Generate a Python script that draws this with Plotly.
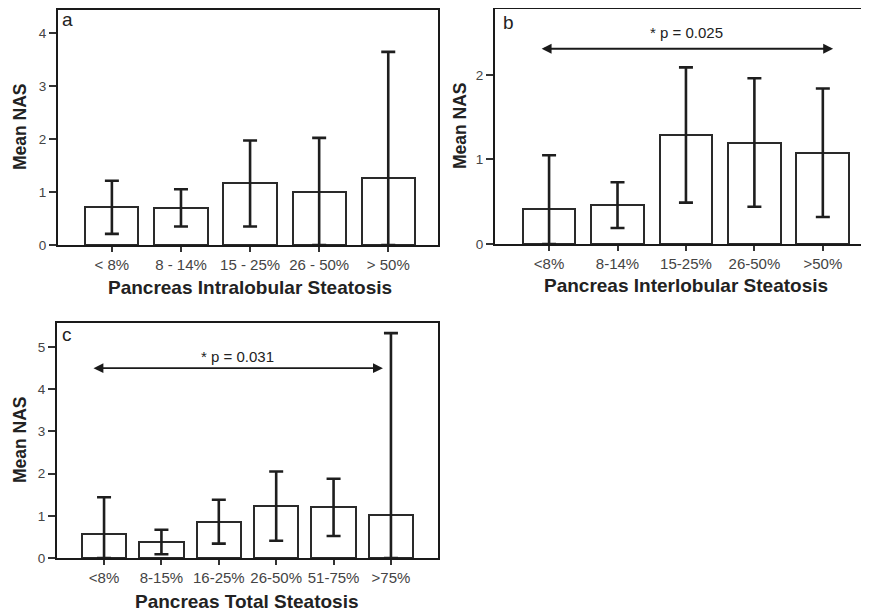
import plotly.graph_objects as go

# page body has an 8px margin: figure placed at (8, 8)
OFF = 8
W, H = 861, 604

# ---- data ----
cats_a = ["< 8%", "8 - 14%", "15 - 25%", "26 - 50%", "> 50%"]
mean_a = [0.71, 0.70, 1.16, 1.00, 1.26]
err_a = [0.50, 0.35, 0.81, 1.02, 2.38]

cats_b = ["<8%", "8-14%", "15-25%", "26-50%", ">50%"]
mean_b = [0.42, 0.46, 1.29, 1.20, 1.08]
err_b = [0.63, 0.27, 0.80, 0.76, 0.76]

cats_c = ["<8%", "8-15%", "16-25%", "26-50%", "51-75%", ">75%"]
mean_c = [0.58, 0.38, 0.86, 1.23, 1.20, 1.01]
err_c = [0.86, 0.29, 0.52, 0.82, 0.68, 4.32]

ptext_b = "* p = 0.025"
ptext_c = "* p = 0.031"

FONT = "Liberation Sans, Arial, sans-serif"
NARROW = "Liberation Sans Narrow, Arial Narrow, Liberation Sans, sans-serif"


def px(x):
    return (x - OFF) / W


def py(y):
    return 1 - (y - OFF) / H


fig = go.Figure()


def add_bars(cats, means, errs, xa, ya):
    fig.add_trace(go.Bar(
        x=cats, y=means, xaxis=xa, yaxis=ya, width=0.77,
        marker=dict(color="white", line=dict(color="#2a2a2a", width=2)),
        error_y=dict(type="data", symmetric=False, array=errs,
                     arrayminus=[min(e, m) for e, m in zip(errs, means)],
                     thickness=2.6, width=7, color="#1e1e1e"),
        showlegend=False, hoverinfo="skip"))


add_bars(cats_a, mean_a, err_a, "x", "y")
add_bars(cats_b, mean_b, err_b, "x2", "y2")
add_bars(cats_c, mean_c, err_c, "x3", "y3")

common_x = dict(type="category", showline=True, linecolor="#1a1a1a", linewidth=2,
                mirror=True, ticks="outside", ticklen=5, tickwidth=1.5, tickcolor="#333",
                tickfont=dict(family=FONT, size=15, color="#444"), showgrid=False,
                zeroline=False, fixedrange=True, automargin=False)
common_y = dict(showline=True, linecolor="#1a1a1a", linewidth=2, mirror=True,
                ticks="outside", ticklen=7, tickwidth=1.5, tickcolor="#333",
                tickfont=dict(family=FONT, size=13.5, color="#444"), showgrid=False,
                zeroline=False, dtick=1, fixedrange=True, automargin=False)

fig.update_layout(
    template="none",
    width=W, height=H, margin=dict(l=0, r=0, t=0, b=0, autoexpand=False),
    paper_bgcolor="white", plot_bgcolor="white", bargap=0,
    xaxis=dict(common_x, domain=[px(58), px(438)], range=[-0.78, 4.72], anchor="y"),
    yaxis=dict(common_y, domain=[py(245), py(10)], range=[0, 4.43], anchor="x"),
    xaxis2=dict(common_x, domain=[px(495), px(868)], range=[-0.79, 4.66], anchor="y2"),
    yaxis2=dict(common_y, domain=[py(244), py(9)], range=[0, 2.78], anchor="x2"),
    xaxis3=dict(common_x, domain=[px(57), px(438)], range=[-0.82, 5.82], anchor="y3"),
    yaxis3=dict(common_y, domain=[py(558), py(323)], range=[0, 5.57], anchor="x3"),
)

ann = []
# y titles
for xx, yy in [(20, 127), (460, 126), (20, 440)]:
    ann.append(dict(text="<b>Mean NAS</b>", x=px(xx), y=py(yy), xref="paper", yref="paper",
                    textangle=-90, showarrow=False, xanchor="center", yanchor="middle",
                    font=dict(family=NARROW, size=17.5, color="#222")))
# x titles
for t, xx, yy in [("Pancreas Intralobular Steatosis", 250, 288),
                  ("Pancreas Interlobular Steatosis", 686, 285),
                  ("Pancreas Total Steatosis", 247, 601)]:
    ann.append(dict(text="<b>%s</b>" % t, x=px(xx), y=py(yy), xref="paper", yref="paper",
                    showarrow=False, xanchor="center", yanchor="middle",
                    font=dict(family=FONT, size=19, color="#222")))
# panel letters
for t, xx, yy in [("a", 67, 20), ("b", 508, 22), ("c", 67, 334)]:
    ann.append(dict(text=t, x=px(xx), y=py(yy), xref="paper", yref="paper",
                    showarrow=False, xanchor="center", yanchor="middle",
                    font=dict(family=FONT, size=19, color="#222")))

# significance arrows
for xa, ya, x0, x1, yv, txt, ty in [("x2", "y2", -0.13, 4.15, 2.31, ptext_b, 2.50),
                                    ("x3", "y3", -0.21, 4.86, 4.50, ptext_c, 4.78)]:
    ann.append(dict(x=x1, y=yv, ax=x0, ay=yv, xref=xa, yref=ya, axref=xa, ayref=ya,
                    showarrow=True, arrowhead=2, startarrowhead=2, arrowside="end+start",
                    arrowsize=1.1, startarrowsize=1.1, arrowwidth=1.8, arrowcolor="#1a1a1a",
                    text=""))
    ann.append(dict(x=(x0 + x1) / 2, y=ty, xref=xa, yref=ya, text=txt, showarrow=False,
                    font=dict(family=FONT, size=15, color="#222")))

fig.update_layout(annotations=ann)
fig.write_html("out.html")
